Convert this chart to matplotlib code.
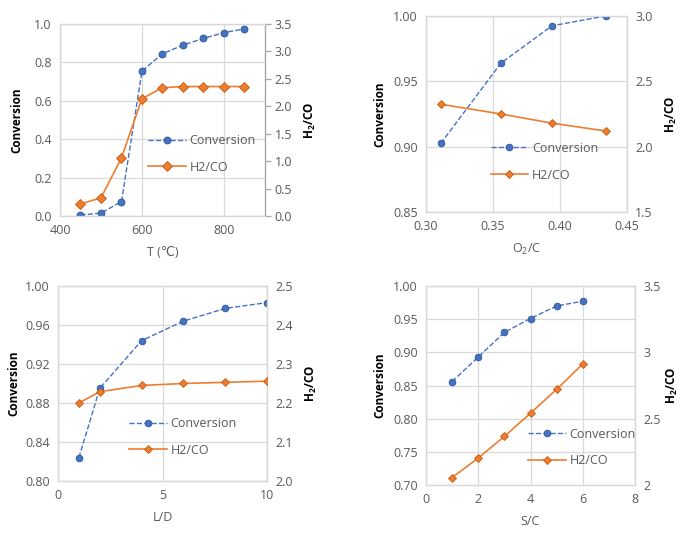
import numpy as np
import matplotlib
matplotlib.use("Agg")
import matplotlib.pyplot as plt
from matplotlib.ticker import FuncFormatter

plt.rcParams['font.family'] = ['Open Sans', 'DejaVu Sans']
plt.rcParams['mathtext.fontset'] = 'custom'
plt.rcParams['mathtext.rm'] = 'Open Sans'
plt.rcParams['mathtext.bf'] = 'Open Sans:bold'

# temperature sweep
T = [450, 500, 550, 600, 650, 700, 750, 800, 850]
conv_T = [0.005, 0.015, 0.075, 0.755, 0.845, 0.89, 0.925, 0.955, 0.975]
h2co_T = [0.22, 0.33, 1.06, 2.14, 2.34, 2.36, 2.36, 2.36, 2.36]

# oxygen to carbon ratio
o2c = [0.311, 0.356, 0.394, 0.434]
conv_o2c = [0.9025, 0.964, 0.9925, 1.00]
h2co_o2c = [2.325, 2.25, 2.18, 2.12]

# length / diameter
ld = [1, 2, 4, 6, 8, 10]
conv_ld = [0.824, 0.895, 0.944, 0.964, 0.977, 0.983]
h2co_ld = [2.20, 2.229, 2.245, 2.25, 2.253, 2.256]

# steam to carbon
sc = [1, 2, 3, 4, 5, 6]
conv_sc = [0.856, 0.893, 0.930, 0.951, 0.970, 0.977]
h2co_sc = [2.056, 2.204, 2.366, 2.542, 2.721, 2.913]

BLUE, BLUE_E = '#4472C4', '#2F5597'
ORANGE, ORANGE_E = '#ED7D31', '#C55A11'
GRID = '#D9D9D9'
TXT = '#595959'
FS = 9


def panel(rect, x, conv, h2co, xlim, xticks, ylim, yticks, ylim2, yticks2,
          xlabel, fmt, fmt2, leg_pos, big=False, right_spine=False,
          lpad=8, rpad=8):
    ax = fig.add_axes(rect)
    ax2 = ax.twinx()
    ms_c, ms_d = (5, 5.5) if big else (4.8, 3.8)
    lc, = ax.plot(x, conv, ls='--', lw=1, color=BLUE, marker='o', ms=ms_c,
                  mfc=BLUE, mec=BLUE_E, mew=0.6, label='Conversion', zorder=3)
    lh, = ax2.plot(x, h2co, ls='-', lw=1.2, color=ORANGE, marker='D',
                   ms=ms_d, mfc=ORANGE, mec=ORANGE_E, mew=0.6,
                   label='H2/CO', zorder=3)
    ax.set_xlim(*xlim)
    ax.set_xticks(xticks)
    ax.set_ylim(*ylim)
    ax.set_yticks(yticks)
    ax2.set_ylim(*ylim2)
    ax2.set_yticks(yticks2)
    ax.grid(True, color=GRID, lw=0.9)
    ax.set_axisbelow(True)
    ax.yaxis.set_major_formatter(FuncFormatter(lambda v, p: fmt.format(v)))
    ax2.yaxis.set_major_formatter(FuncFormatter(lambda v, p: fmt2(v)))
    for a in (ax, ax2):
        for s in a.spines.values():
            s.set_color(GRID)
            s.set_linewidth(0.9)
        a.tick_params(colors=TXT, labelsize=FS, length=0, pad=6)
    if right_spine:
        ax2.spines['right'].set_color('#A6A6A6')
        ax2.tick_params(axis='y', length=4, width=0.9, color='#A6A6A6', pad=3)
    ax.set_xlabel(xlabel, color=TXT, fontsize=FS, labelpad=6)
    ax.set_ylabel('Conversion', fontsize=8.5, fontweight='bold', labelpad=lpad)
    ax2.set_ylabel(r'H$_\mathbf{2}$/CO', fontsize=8.5, fontweight='bold',
                   labelpad=rpad)
    leg = ax2.legend([lc, lh], ['Conversion', 'H2/CO'], loc='upper left',
                     bbox_to_anchor=leg_pos, frameon=False, fontsize=FS,
                     handlelength=3.0, labelspacing=1.1, borderpad=0,
                     handletextpad=0.3)
    for t in leg.get_texts():
        t.set_color(TXT)
    return ax, ax2


fig = plt.figure(figsize=(6.84, 5.37), dpi=100)

panel([0.0877, 0.5978, 0.2997, 0.3575], T, conv_T, h2co_T,
      (400, 900), [400, 600, 800], (0, 1.0), np.arange(0, 1.01, 0.2),
      (0, 3.5), np.arange(0, 3.51, 0.5), 'T (℃)', '{:.1f}',
      lambda v: '{:.1f}'.format(v), (0.40, 0.46), big=True, right_spine=True)

panel([0.6228, 0.6052, 0.2939, 0.365], o2c, conv_o2c, h2co_o2c,
      (0.30, 0.45), [0.30, 0.35, 0.40, 0.45], (0.85, 1.0), [0.85, 0.90, 0.95, 1.00],
      (1.5, 3.0), [1.5, 2.0, 2.5, 3.0], 'O$_2$/C', '{:.2f}',
      lambda v: '{:.1f}'.format(v), (0.29, 0.39), lpad=5)

panel([0.0848, 0.1043, 0.3056, 0.3631], ld, conv_ld, h2co_ld,
      (0, 10), [0, 5, 10], (0.80, 1.0), [0.80, 0.84, 0.88, 0.92, 0.96, 1.00],
      (2.0, 2.5), [2.0, 2.1, 2.2, 2.3, 2.4, 2.5], 'L/D', '{:.2f}',
      lambda v: '{:.1f}'.format(v), (0.31, 0.36), lpad=3)

panel([0.6228, 0.0968, 0.3056, 0.3706], sc, conv_sc, h2co_sc,
      (0, 8), [0, 2, 4, 6, 8], (0.70, 1.0), [0.70, 0.75, 0.80, 0.85, 0.90, 0.95, 1.00],
      (2, 3.5), [2, 2.5, 3, 3.5], 'S/C', '{:.2f}',
      lambda v: '{:g}'.format(v), (0.46, 0.32), lpad=5, rpad=3)

fig.savefig('out.png', dpi=100)
